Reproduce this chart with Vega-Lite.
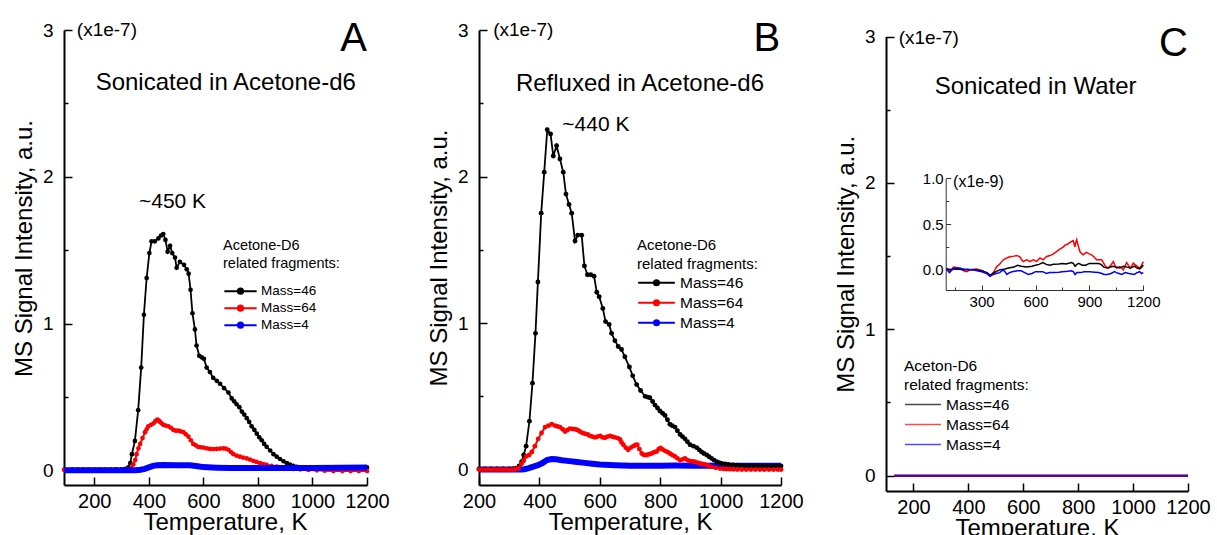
{
"$schema":"https://vega.github.io/schema/vega-lite/v6.json",
"padding":{"left":12,"top":19,"right":0,"bottom":0},
"config":{"view":{"stroke":null},"font":"Liberation Sans",
"text":{"font":"Liberation Sans","color":"#000","baseline":"alphabetic"},
"axis":{"domainColor":"#000","domainWidth":2,"tickColor":"#000","tickWidth":1.5,"labelColor":"#000","titleColor":"#000","labelFont":"Liberation Sans","titleFont":"Liberation Sans","labelFontSize":19,"titleFontSize":24,"titleFontWeight":"normal","grid":false,"labelOverlap":false},
"axisX":{"labelFontSize":20},
"legend":{"titleFontWeight":"normal","titleColor":"#000","labelColor":"#000","titleFont":"Liberation Sans","labelFont":"Liberation Sans","padding":0,"rowPadding":0}},
"datasets":{
"A":[
{"T":90,"v":0.005,"s":"46"},{"T":120,"v":0.005,"s":"46"},{"T":140,"v":0.005,"s":"46"},{"T":160,"v":0.005,"s":"46"},{"T":180,"v":0.005,"s":"46"},{"T":200,"v":0.005,"s":"46"},{"T":220,"v":0.005,"s":"46"},{"T":240,"v":0.005,"s":"46"},{"T":260,"v":0.005,"s":"46"},{"T":280,"v":0.006,"s":"46"},{"T":300,"v":0.007,"s":"46"},{"T":315,"v":0.01,"s":"46"},{"T":325,"v":0.02,"s":"46"},{"T":332,"v":0.05,"s":"46"},{"T":338,"v":0.11,"s":"46"},{"T":349,"v":0.2,"s":"46"},{"T":361,"v":0.41,"s":"46"},{"T":372,"v":0.7,"s":"46"},{"T":382,"v":1.06,"s":"46"},{"T":392,"v":1.31,"s":"46"},{"T":402,"v":1.48,"s":"46"},{"T":410,"v":1.56,"s":"46"},{"T":422,"v":1.56,"s":"46"},{"T":435,"v":1.58,"s":"46"},{"T":445,"v":1.6,"s":"46"},{"T":453,"v":1.61,"s":"46"},{"T":461,"v":1.57,"s":"46"},{"T":469,"v":1.49,"s":"46"},{"T":478,"v":1.53,"s":"46"},{"T":486,"v":1.48,"s":"46"},{"T":496,"v":1.45,"s":"46"},{"T":502,"v":1.38,"s":"46"},{"T":514,"v":1.42,"s":"46"},{"T":529,"v":1.4,"s":"46"},{"T":539,"v":1.37,"s":"46"},{"T":546,"v":1.34,"s":"46"},{"T":553,"v":1.23,"s":"46"},{"T":560,"v":1.07,"s":"46"},{"T":569,"v":0.96,"s":"46"},{"T":575,"v":0.85,"s":"46"},{"T":585,"v":0.78,"s":"46"},{"T":594,"v":0.77,"s":"46"},{"T":602,"v":0.76,"s":"46"},{"T":612,"v":0.7,"s":"46"},{"T":624,"v":0.67,"s":"46"},{"T":636,"v":0.63,"s":"46"},{"T":649,"v":0.61,"s":"46"},{"T":661,"v":0.59,"s":"46"},{"T":676,"v":0.56,"s":"46"},{"T":692,"v":0.53,"s":"46"},{"T":704,"v":0.49,"s":"46"},{"T":713,"v":0.47,"s":"46"},{"T":722,"v":0.45,"s":"46"},{"T":732,"v":0.43,"s":"46"},{"T":741,"v":0.4,"s":"46"},{"T":750,"v":0.38,"s":"46"},{"T":759,"v":0.355,"s":"46"},{"T":768,"v":0.33,"s":"46"},{"T":777,"v":0.3,"s":"46"},{"T":787,"v":0.275,"s":"46"},{"T":796,"v":0.25,"s":"46"},{"T":805,"v":0.225,"s":"46"},{"T":814,"v":0.205,"s":"46"},{"T":823,"v":0.18,"s":"46"},{"T":832,"v":0.16,"s":"46"},{"T":845,"v":0.135,"s":"46"},{"T":857,"v":0.11,"s":"46"},{"T":869,"v":0.093,"s":"46"},{"T":881,"v":0.077,"s":"46"},{"T":894,"v":0.062,"s":"46"},{"T":906,"v":0.049,"s":"46"},{"T":918,"v":0.039,"s":"46"},{"T":930,"v":0.03,"s":"46"},{"T":943,"v":0.024,"s":"46"},{"T":955,"v":0.019,"s":"46"},{"T":970,"v":0.015,"s":"46"},{"T":991,"v":0.012,"s":"46"},{"T":1010,"v":0.01,"s":"46"},{"T":1030,"v":0.01,"s":"46"},{"T":1050,"v":0.01,"s":"46"},{"T":1070,"v":0.012,"s":"46"},{"T":1090,"v":0.012,"s":"46"},{"T":1110,"v":0.013,"s":"46"},{"T":1130,"v":0.014,"s":"46"},{"T":1150,"v":0.015,"s":"46"},{"T":1170,"v":0.016,"s":"46"},{"T":1185,"v":0.018,"s":"46"},{"T":1200,"v":0.02,"s":"46"},
{"T":90,"v":0.003,"s":"64"},{"T":120,"v":0.003,"s":"64"},{"T":140,"v":0.003,"s":"64"},{"T":160,"v":0.003,"s":"64"},{"T":180,"v":0.003,"s":"64"},{"T":200,"v":0.003,"s":"64"},{"T":220,"v":0.003,"s":"64"},{"T":240,"v":0.003,"s":"64"},{"T":260,"v":0.003,"s":"64"},{"T":280,"v":0.003,"s":"64"},{"T":300,"v":0.003,"s":"64"},{"T":320,"v":0.005,"s":"64"},{"T":335,"v":0.015,"s":"64"},{"T":343,"v":0.04,"s":"64"},{"T":350,"v":0.07,"s":"64"},{"T":355,"v":0.11,"s":"64"},{"T":362,"v":0.15,"s":"64"},{"T":368,"v":0.18,"s":"64"},{"T":377,"v":0.22,"s":"64"},{"T":386,"v":0.26,"s":"64"},{"T":392,"v":0.28,"s":"64"},{"T":398,"v":0.3,"s":"64"},{"T":408,"v":0.31,"s":"64"},{"T":417,"v":0.32,"s":"64"},{"T":424,"v":0.335,"s":"64"},{"T":431,"v":0.345,"s":"64"},{"T":436,"v":0.34,"s":"64"},{"T":441,"v":0.33,"s":"64"},{"T":447,"v":0.32,"s":"64"},{"T":453,"v":0.31,"s":"64"},{"T":462,"v":0.305,"s":"64"},{"T":472,"v":0.3,"s":"64"},{"T":481,"v":0.29,"s":"64"},{"T":490,"v":0.275,"s":"64"},{"T":499,"v":0.27,"s":"64"},{"T":508,"v":0.27,"s":"64"},{"T":517,"v":0.265,"s":"64"},{"T":527,"v":0.26,"s":"64"},{"T":536,"v":0.245,"s":"64"},{"T":545,"v":0.23,"s":"64"},{"T":554,"v":0.205,"s":"64"},{"T":563,"v":0.18,"s":"64"},{"T":572,"v":0.17,"s":"64"},{"T":581,"v":0.16,"s":"64"},{"T":590,"v":0.157,"s":"64"},{"T":600,"v":0.155,"s":"64"},{"T":612,"v":0.15,"s":"64"},{"T":624,"v":0.146,"s":"64"},{"T":636,"v":0.145,"s":"64"},{"T":649,"v":0.146,"s":"64"},{"T":661,"v":0.148,"s":"64"},{"T":673,"v":0.15,"s":"64"},{"T":682,"v":0.148,"s":"64"},{"T":692,"v":0.14,"s":"64"},{"T":701,"v":0.125,"s":"64"},{"T":710,"v":0.11,"s":"64"},{"T":722,"v":0.1,"s":"64"},{"T":734,"v":0.093,"s":"64"},{"T":746,"v":0.087,"s":"64"},{"T":759,"v":0.081,"s":"64"},{"T":771,"v":0.073,"s":"64"},{"T":783,"v":0.065,"s":"64"},{"T":795,"v":0.057,"s":"64"},{"T":808,"v":0.049,"s":"64"},{"T":820,"v":0.043,"s":"64"},{"T":832,"v":0.037,"s":"64"},{"T":850,"v":0.031,"s":"64"},{"T":869,"v":0.026,"s":"64"},{"T":887,"v":0.02,"s":"64"},{"T":906,"v":0.014,"s":"64"},{"T":930,"v":0.01,"s":"64"},{"T":955,"v":0.007,"s":"64"},{"T":985,"v":0.003,"s":"64"},{"T":1016,"v":0.0,"s":"64"},{"T":1045,"v":-0.003,"s":"64"},{"T":1077,"v":-0.005,"s":"64"},{"T":1110,"v":-0.005,"s":"64"},{"T":1140,"v":-0.005,"s":"64"},{"T":1170,"v":-0.005,"s":"64"},{"T":1200,"v":-0.004,"s":"64"},
{"T":90,"v":0.0,"s":"4"},{"T":150,"v":0.0,"s":"4"},{"T":200,"v":0.0,"s":"4"},{"T":250,"v":0.0,"s":"4"},{"T":300,"v":0.0,"s":"4"},{"T":350,"v":0.001,"s":"4"},{"T":370,"v":0.004,"s":"4"},{"T":385,"v":0.01,"s":"4"},{"T":400,"v":0.02,"s":"4"},{"T":415,"v":0.03,"s":"4"},{"T":430,"v":0.035,"s":"4"},{"T":450,"v":0.036,"s":"4"},{"T":500,"v":0.035,"s":"4"},{"T":550,"v":0.034,"s":"4"},{"T":580,"v":0.028,"s":"4"},{"T":600,"v":0.022,"s":"4"},{"T":650,"v":0.018,"s":"4"},{"T":700,"v":0.016,"s":"4"},{"T":800,"v":0.015,"s":"4"},{"T":900,"v":0.015,"s":"4"},{"T":1000,"v":0.016,"s":"4"},{"T":1100,"v":0.017,"s":"4"},{"T":1200,"v":0.02,"s":"4"}
],
"B":[
{"T":200,"v":0.005,"s":"46"},{"T":220,"v":0.005,"s":"46"},{"T":240,"v":0.005,"s":"46"},{"T":260,"v":0.005,"s":"46"},{"T":280,"v":0.005,"s":"46"},{"T":300,"v":0.005,"s":"46"},{"T":315,"v":0.006,"s":"46"},{"T":325,"v":0.01,"s":"46"},{"T":333,"v":0.025,"s":"46"},{"T":341,"v":0.054,"s":"46"},{"T":348,"v":0.1,"s":"46"},{"T":356,"v":0.16,"s":"46"},{"T":367,"v":0.33,"s":"46"},{"T":377,"v":0.59,"s":"46"},{"T":387,"v":0.93,"s":"46"},{"T":395,"v":1.28,"s":"46"},{"T":406,"v":1.75,"s":"46"},{"T":416,"v":2.03,"s":"46"},{"T":426,"v":2.32,"s":"46"},{"T":437,"v":2.29,"s":"46"},{"T":446,"v":2.14,"s":"46"},{"T":457,"v":2.21,"s":"46"},{"T":468,"v":2.12,"s":"46"},{"T":479,"v":2.03,"s":"46"},{"T":488,"v":1.88,"s":"46"},{"T":498,"v":1.81,"s":"46"},{"T":507,"v":1.75,"s":"46"},{"T":518,"v":1.56,"s":"46"},{"T":527,"v":1.6,"s":"46"},{"T":540,"v":1.6,"s":"46"},{"T":549,"v":1.39,"s":"46"},{"T":559,"v":1.33,"s":"46"},{"T":570,"v":1.33,"s":"46"},{"T":581,"v":1.32,"s":"46"},{"T":590,"v":1.21,"s":"46"},{"T":598,"v":1.18,"s":"46"},{"T":610,"v":1.1,"s":"46"},{"T":619,"v":1.01,"s":"46"},{"T":631,"v":0.99,"s":"46"},{"T":639,"v":0.93,"s":"46"},{"T":650,"v":0.88,"s":"46"},{"T":661,"v":0.84,"s":"46"},{"T":672,"v":0.82,"s":"46"},{"T":683,"v":0.77,"s":"46"},{"T":698,"v":0.7,"s":"46"},{"T":709,"v":0.64,"s":"46"},{"T":722,"v":0.58,"s":"46"},{"T":735,"v":0.54,"s":"46"},{"T":750,"v":0.5,"s":"46"},{"T":758,"v":0.495,"s":"46"},{"T":766,"v":0.49,"s":"46"},{"T":775,"v":0.465,"s":"46"},{"T":783,"v":0.44,"s":"46"},{"T":791,"v":0.42,"s":"46"},{"T":799,"v":0.4,"s":"46"},{"T":808,"v":0.385,"s":"46"},{"T":816,"v":0.37,"s":"46"},{"T":824,"v":0.34,"s":"46"},{"T":832,"v":0.31,"s":"46"},{"T":840,"v":0.3,"s":"46"},{"T":849,"v":0.29,"s":"46"},{"T":857,"v":0.265,"s":"46"},{"T":866,"v":0.24,"s":"46"},{"T":874,"v":0.225,"s":"46"},{"T":882,"v":0.21,"s":"46"},{"T":890,"v":0.19,"s":"46"},{"T":899,"v":0.17,"s":"46"},{"T":910,"v":0.16,"s":"46"},{"T":921,"v":0.15,"s":"46"},{"T":929,"v":0.135,"s":"46"},{"T":937,"v":0.12,"s":"46"},{"T":945,"v":0.11,"s":"46"},{"T":954,"v":0.1,"s":"46"},{"T":962,"v":0.088,"s":"46"},{"T":970,"v":0.077,"s":"46"},{"T":978,"v":0.065,"s":"46"},{"T":987,"v":0.054,"s":"46"},{"T":995,"v":0.048,"s":"46"},{"T":1004,"v":0.042,"s":"46"},{"T":1015,"v":0.038,"s":"46"},{"T":1026,"v":0.035,"s":"46"},{"T":1040,"v":0.032,"s":"46"},{"T":1053,"v":0.03,"s":"46"},{"T":1066,"v":0.029,"s":"46"},{"T":1080,"v":0.028,"s":"46"},{"T":1095,"v":0.027,"s":"46"},{"T":1110,"v":0.026,"s":"46"},{"T":1125,"v":0.026,"s":"46"},{"T":1140,"v":0.025,"s":"46"},{"T":1155,"v":0.025,"s":"46"},{"T":1170,"v":0.025,"s":"46"},{"T":1185,"v":0.025,"s":"46"},{"T":1200,"v":0.025,"s":"46"},
{"T":200,"v":0.0,"s":"64"},{"T":210,"v":0.0,"s":"64"},{"T":220,"v":0.0,"s":"64"},{"T":230,"v":0.0,"s":"64"},{"T":240,"v":0.0,"s":"64"},{"T":250,"v":0.0,"s":"64"},{"T":260,"v":0.0,"s":"64"},{"T":270,"v":0.0,"s":"64"},{"T":280,"v":0.0,"s":"64"},{"T":290,"v":0.0,"s":"64"},{"T":300,"v":0.0,"s":"64"},{"T":310,"v":0.0,"s":"64"},{"T":320,"v":0.002,"s":"64"},{"T":330,"v":0.008,"s":"64"},{"T":341,"v":0.04,"s":"64"},{"T":348,"v":0.06,"s":"64"},{"T":356,"v":0.09,"s":"64"},{"T":366,"v":0.1,"s":"64"},{"T":375,"v":0.12,"s":"64"},{"T":385,"v":0.16,"s":"64"},{"T":396,"v":0.21,"s":"64"},{"T":407,"v":0.25,"s":"64"},{"T":419,"v":0.29,"s":"64"},{"T":430,"v":0.3,"s":"64"},{"T":441,"v":0.31,"s":"64"},{"T":452,"v":0.3,"s":"64"},{"T":460,"v":0.295,"s":"64"},{"T":468,"v":0.29,"s":"64"},{"T":477,"v":0.275,"s":"64"},{"T":485,"v":0.26,"s":"64"},{"T":493,"v":0.27,"s":"64"},{"T":501,"v":0.28,"s":"64"},{"T":510,"v":0.278,"s":"64"},{"T":518,"v":0.275,"s":"64"},{"T":526,"v":0.27,"s":"64"},{"T":534,"v":0.26,"s":"64"},{"T":543,"v":0.25,"s":"64"},{"T":551,"v":0.245,"s":"64"},{"T":560,"v":0.24,"s":"64"},{"T":568,"v":0.23,"s":"64"},{"T":576,"v":0.225,"s":"64"},{"T":584,"v":0.22,"s":"64"},{"T":592,"v":0.225,"s":"64"},{"T":601,"v":0.23,"s":"64"},{"T":609,"v":0.22,"s":"64"},{"T":617,"v":0.217,"s":"64"},{"T":625,"v":0.225,"s":"64"},{"T":634,"v":0.23,"s":"64"},{"T":642,"v":0.225,"s":"64"},{"T":650,"v":0.22,"s":"64"},{"T":659,"v":0.215,"s":"64"},{"T":667,"v":0.205,"s":"64"},{"T":672,"v":0.185,"s":"64"},{"T":678,"v":0.17,"s":"64"},{"T":686,"v":0.15,"s":"64"},{"T":694,"v":0.135,"s":"64"},{"T":702,"v":0.15,"s":"64"},{"T":711,"v":0.16,"s":"64"},{"T":718,"v":0.168,"s":"64"},{"T":724,"v":0.17,"s":"64"},{"T":731,"v":0.14,"s":"64"},{"T":739,"v":0.11,"s":"64"},{"T":747,"v":0.1,"s":"64"},{"T":755,"v":0.1,"s":"64"},{"T":763,"v":0.105,"s":"64"},{"T":771,"v":0.11,"s":"64"},{"T":780,"v":0.118,"s":"64"},{"T":788,"v":0.124,"s":"64"},{"T":795,"v":0.14,"s":"64"},{"T":801,"v":0.147,"s":"64"},{"T":808,"v":0.138,"s":"64"},{"T":816,"v":0.128,"s":"64"},{"T":824,"v":0.12,"s":"64"},{"T":832,"v":0.11,"s":"64"},{"T":840,"v":0.1,"s":"64"},{"T":849,"v":0.09,"s":"64"},{"T":857,"v":0.077,"s":"64"},{"T":866,"v":0.065,"s":"64"},{"T":874,"v":0.07,"s":"64"},{"T":882,"v":0.077,"s":"64"},{"T":890,"v":0.065,"s":"64"},{"T":899,"v":0.058,"s":"64"},{"T":907,"v":0.056,"s":"64"},{"T":915,"v":0.054,"s":"64"},{"T":924,"v":0.048,"s":"64"},{"T":932,"v":0.042,"s":"64"},{"T":940,"v":0.038,"s":"64"},{"T":948,"v":0.035,"s":"64"},{"T":959,"v":0.027,"s":"64"},{"T":970,"v":0.019,"s":"64"},{"T":984,"v":0.012,"s":"64"},{"T":998,"v":0.007,"s":"64"},{"T":1010,"v":0.005,"s":"64"},{"T":1020,"v":0.004,"s":"64"},{"T":1030,"v":0.003,"s":"64"},{"T":1042,"v":0.002,"s":"64"},{"T":1055,"v":0.001,"s":"64"},{"T":1070,"v":0.001,"s":"64"},{"T":1085,"v":0.0,"s":"64"},{"T":1100,"v":0.0,"s":"64"},{"T":1115,"v":0.0,"s":"64"},{"T":1130,"v":0.0,"s":"64"},{"T":1145,"v":0.0,"s":"64"},{"T":1160,"v":0.0,"s":"64"},{"T":1175,"v":0.0,"s":"64"},{"T":1190,"v":0.0,"s":"64"},{"T":1200,"v":0.0,"s":"64"},
{"T":200,"v":0.0,"s":"4"},{"T":340,"v":0.0,"s":"4"},{"T":350,"v":0.003,"s":"4"},{"T":365,"v":0.01,"s":"4"},{"T":380,"v":0.02,"s":"4"},{"T":395,"v":0.03,"s":"4"},{"T":410,"v":0.045,"s":"4"},{"T":425,"v":0.065,"s":"4"},{"T":440,"v":0.072,"s":"4"},{"T":455,"v":0.07,"s":"4"},{"T":475,"v":0.064,"s":"4"},{"T":500,"v":0.058,"s":"4"},{"T":525,"v":0.052,"s":"4"},{"T":550,"v":0.046,"s":"4"},{"T":575,"v":0.04,"s":"4"},{"T":600,"v":0.035,"s":"4"},{"T":650,"v":0.03,"s":"4"},{"T":700,"v":0.027,"s":"4"},{"T":750,"v":0.026,"s":"4"},{"T":800,"v":0.027,"s":"4"},{"T":850,"v":0.028,"s":"4"},{"T":900,"v":0.027,"s":"4"},{"T":950,"v":0.026,"s":"4"},{"T":1000,"v":0.026,"s":"4"},{"T":1050,"v":0.026,"s":"4"},{"T":1100,"v":0.026,"s":"4"},{"T":1150,"v":0.026,"s":"4"},{"T":1200,"v":0.026,"s":"4"}
],
"C":[
{"T":130,"v":0,"s":"46"},{"T":1200,"v":0,"s":"46"},{"T":130,"v":0,"s":"64"},{"T":1200,"v":0,"s":"64"},{"T":130,"v":0,"s":"4"},{"T":1200,"v":0,"s":"4"}
],
"Cin":[
{"T":105,"v":0.02,"s":"64"},{"T":124,"v":-0.02,"s":"64"},{"T":143,"v":0.03,"s":"64"},{"T":160,"v":0.025,"s":"64"},{"T":180,"v":0.02,"s":"64"},{"T":200,"v":-0.01,"s":"64"},{"T":217,"v":-0.02,"s":"64"},{"T":235,"v":0.0,"s":"64"},{"T":254,"v":0.007,"s":"64"},{"T":272,"v":0.01,"s":"64"},{"T":291,"v":0.0,"s":"64"},{"T":305,"v":-0.01,"s":"64"},{"T":319,"v":-0.03,"s":"64"},{"T":333,"v":-0.05,"s":"64"},{"T":347,"v":-0.065,"s":"64"},{"T":356,"v":-0.05,"s":"64"},{"T":365,"v":-0.03,"s":"64"},{"T":374,"v":0.0,"s":"64"},{"T":384,"v":0.036,"s":"64"},{"T":393,"v":0.05,"s":"64"},{"T":402,"v":0.066,"s":"64"},{"T":412,"v":0.09,"s":"64"},{"T":421,"v":0.11,"s":"64"},{"T":430,"v":0.12,"s":"64"},{"T":440,"v":0.13,"s":"64"},{"T":453,"v":0.14,"s":"64"},{"T":467,"v":0.146,"s":"64"},{"T":481,"v":0.15,"s":"64"},{"T":495,"v":0.157,"s":"64"},{"T":505,"v":0.15,"s":"64"},{"T":514,"v":0.14,"s":"64"},{"T":523,"v":0.11,"s":"64"},{"T":532,"v":0.09,"s":"64"},{"T":541,"v":0.1,"s":"64"},{"T":551,"v":0.11,"s":"64"},{"T":560,"v":0.1,"s":"64"},{"T":569,"v":0.09,"s":"64"},{"T":578,"v":0.1,"s":"64"},{"T":588,"v":0.11,"s":"64"},{"T":597,"v":0.1,"s":"64"},{"T":606,"v":0.09,"s":"64"},{"T":615,"v":0.11,"s":"64"},{"T":625,"v":0.13,"s":"64"},{"T":634,"v":0.12,"s":"64"},{"T":643,"v":0.11,"s":"64"},{"T":652,"v":0.13,"s":"64"},{"T":662,"v":0.146,"s":"64"},{"T":676,"v":0.155,"s":"64"},{"T":690,"v":0.164,"s":"64"},{"T":703,"v":0.18,"s":"64"},{"T":717,"v":0.2,"s":"64"},{"T":731,"v":0.22,"s":"64"},{"T":745,"v":0.237,"s":"64"},{"T":755,"v":0.25,"s":"64"},{"T":764,"v":0.27,"s":"64"},{"T":778,"v":0.28,"s":"64"},{"T":792,"v":0.3,"s":"64"},{"T":801,"v":0.31,"s":"64"},{"T":810,"v":0.32,"s":"64"},{"T":815,"v":0.28,"s":"64"},{"T":819,"v":0.25,"s":"64"},{"T":824,"v":0.3,"s":"64"},{"T":829,"v":0.33,"s":"64"},{"T":838,"v":0.26,"s":"64"},{"T":847,"v":0.2,"s":"64"},{"T":856,"v":0.18,"s":"64"},{"T":866,"v":0.164,"s":"64"},{"T":875,"v":0.18,"s":"64"},{"T":884,"v":0.19,"s":"64"},{"T":898,"v":0.175,"s":"64"},{"T":912,"v":0.164,"s":"64"},{"T":926,"v":0.14,"s":"64"},{"T":940,"v":0.11,"s":"64"},{"T":954,"v":0.11,"s":"64"},{"T":968,"v":0.11,"s":"64"},{"T":978,"v":0.08,"s":"64"},{"T":987,"v":0.044,"s":"64"},{"T":996,"v":0.03,"s":"64"},{"T":1005,"v":0.018,"s":"64"},{"T":1019,"v":0.05,"s":"64"},{"T":1033,"v":0.09,"s":"64"},{"T":1042,"v":0.05,"s":"64"},{"T":1052,"v":0.018,"s":"64"},{"T":1061,"v":0.03,"s":"64"},{"T":1070,"v":0.036,"s":"64"},{"T":1080,"v":0.02,"s":"64"},{"T":1089,"v":0.0,"s":"64"},{"T":1098,"v":0.04,"s":"64"},{"T":1107,"v":0.08,"s":"64"},{"T":1117,"v":0.05,"s":"64"},{"T":1126,"v":0.018,"s":"64"},{"T":1135,"v":0.04,"s":"64"},{"T":1144,"v":0.073,"s":"64"},{"T":1153,"v":0.06,"s":"64"},{"T":1163,"v":0.044,"s":"64"},{"T":1172,"v":0.03,"s":"64"},{"T":1181,"v":0.018,"s":"64"},{"T":1190,"v":0.05,"s":"64"},{"T":1200,"v":0.09,"s":"64"},
{"T":105,"v":0.01,"s":"46"},{"T":130,"v":0.005,"s":"46"},{"T":160,"v":0.01,"s":"46"},{"T":200,"v":0.0,"s":"46"},{"T":250,"v":0.0,"s":"46"},{"T":300,"v":-0.01,"s":"46"},{"T":330,"v":-0.03,"s":"46"},{"T":347,"v":-0.06,"s":"46"},{"T":370,"v":-0.03,"s":"46"},{"T":400,"v":0.0,"s":"46"},{"T":430,"v":0.01,"s":"46"},{"T":450,"v":0.02,"s":"46"},{"T":480,"v":0.03,"s":"46"},{"T":500,"v":0.05,"s":"46"},{"T":520,"v":0.04,"s":"46"},{"T":550,"v":0.03,"s":"46"},{"T":580,"v":0.04,"s":"46"},{"T":600,"v":0.05,"s":"46"},{"T":620,"v":0.06,"s":"46"},{"T":640,"v":0.08,"s":"46"},{"T":660,"v":0.06,"s":"46"},{"T":680,"v":0.05,"s":"46"},{"T":700,"v":0.06,"s":"46"},{"T":730,"v":0.065,"s":"46"},{"T":750,"v":0.07,"s":"46"},{"T":770,"v":0.065,"s":"46"},{"T":800,"v":0.08,"s":"46"},{"T":810,"v":0.07,"s":"46"},{"T":820,"v":0.04,"s":"46"},{"T":830,"v":0.06,"s":"46"},{"T":840,"v":0.07,"s":"46"},{"T":860,"v":0.05,"s":"46"},{"T":880,"v":0.05,"s":"46"},{"T":900,"v":0.07,"s":"46"},{"T":930,"v":0.07,"s":"46"},{"T":950,"v":0.07,"s":"46"},{"T":965,"v":0.06,"s":"46"},{"T":980,"v":0.03,"s":"46"},{"T":1000,"v":0.02,"s":"46"},{"T":1030,"v":0.04,"s":"46"},{"T":1050,"v":0.03,"s":"46"},{"T":1070,"v":0.02,"s":"46"},{"T":1090,"v":0.04,"s":"46"},{"T":1110,"v":0.03,"s":"46"},{"T":1130,"v":0.02,"s":"46"},{"T":1150,"v":0.04,"s":"46"},{"T":1165,"v":0.02,"s":"46"},{"T":1180,"v":0.01,"s":"46"},{"T":1190,"v":0.03,"s":"46"},{"T":1200,"v":0.05,"s":"46"},
{"T":105,"v":0.01,"s":"4"},{"T":120,"v":-0.03,"s":"4"},{"T":135,"v":0.0,"s":"4"},{"T":150,"v":0.02,"s":"4"},{"T":180,"v":0.015,"s":"4"},{"T":200,"v":0.01,"s":"4"},{"T":250,"v":0.0,"s":"4"},{"T":300,"v":-0.02,"s":"4"},{"T":330,"v":-0.04,"s":"4"},{"T":347,"v":-0.07,"s":"4"},{"T":365,"v":-0.05,"s":"4"},{"T":380,"v":-0.04,"s":"4"},{"T":400,"v":-0.03,"s":"4"},{"T":420,"v":0.0,"s":"4"},{"T":430,"v":-0.02,"s":"4"},{"T":440,"v":-0.05,"s":"4"},{"T":455,"v":-0.03,"s":"4"},{"T":470,"v":-0.02,"s":"4"},{"T":500,"v":-0.01,"s":"4"},{"T":520,"v":-0.01,"s":"4"},{"T":540,"v":-0.03,"s":"4"},{"T":560,"v":-0.05,"s":"4"},{"T":580,"v":-0.04,"s":"4"},{"T":600,"v":-0.02,"s":"4"},{"T":620,"v":-0.02,"s":"4"},{"T":640,"v":-0.02,"s":"4"},{"T":660,"v":-0.04,"s":"4"},{"T":680,"v":-0.03,"s":"4"},{"T":700,"v":-0.03,"s":"4"},{"T":730,"v":-0.025,"s":"4"},{"T":750,"v":-0.02,"s":"4"},{"T":780,"v":-0.015,"s":"4"},{"T":800,"v":-0.01,"s":"4"},{"T":810,"v":-0.02,"s":"4"},{"T":820,"v":-0.05,"s":"4"},{"T":830,"v":-0.03,"s":"4"},{"T":850,"v":-0.03,"s":"4"},{"T":870,"v":-0.02,"s":"4"},{"T":900,"v":-0.02,"s":"4"},{"T":930,"v":-0.025,"s":"4"},{"T":950,"v":-0.03,"s":"4"},{"T":970,"v":-0.04,"s":"4"},{"T":980,"v":-0.05,"s":"4"},{"T":1000,"v":-0.05,"s":"4"},{"T":1020,"v":-0.04,"s":"4"},{"T":1040,"v":-0.02,"s":"4"},{"T":1050,"v":-0.03,"s":"4"},{"T":1065,"v":-0.04,"s":"4"},{"T":1080,"v":-0.05,"s":"4"},{"T":1100,"v":-0.03,"s":"4"},{"T":1120,"v":-0.04,"s":"4"},{"T":1150,"v":-0.05,"s":"4"},{"T":1165,"v":-0.03,"s":"4"},{"T":1180,"v":-0.02,"s":"4"},{"T":1190,"v":-0.04,"s":"4"},{"T":1200,"v":-0.03,"s":"4"}
]
},
"spacing":105,
"bounds":"flush",
"resolve":{"legend":{"color":"independent"}},
"hconcat":[
{
"width":310,"height":455,
"layer":[
{
"data":{"name":"A"},
"encoding":{
"x":{"field":"T","type":"quantitative","scale":{"domain":[89,1200],"range":[0,303],"nice":false,"zero":false},
"axis":{"values":[200,300,400,500,600,700,800,900,1000,1100,1200],"format":"d","labelExpr":"datum.value % 200 == 0 ? datum.label : ''","tickSize":{"condition":{"test":"datum.value % 200 == 0","value":-8},"value":-4},"labelPadding":14,"labelFlush":false,"labelOverlap":false,"title":"Temperature, K","titlePadding":-1,"titleX":161}},
"y":{"field":"v","type":"quantitative","scale":{"domain":[-0.1,3],"nice":false,"zero":false},
"axis":{"values":[0,0.5,1,1.5,2,2.5,3],"labelExpr":"datum.value % 1 == 0 ? format(datum.value, 'd') : ''","tickSize":{"condition":{"test":"datum.value % 1 == 0","value":-8},"value":-4},"labelPadding":19,"labelFlush":false,"labelOverlap":false,"title":"MS Signal Intensity, a.u.","titlePadding":6,"titleY":218}},
"color":{"field":"s","type":"nominal","scale":{"domain":["46","64","4"],"range":["#000000","#ff0000","#0000ff"]},
"legend":{"title":["Acetone-D6","related fragments:"],"orient":"none","legendX":159,"legendY":209,"titleFontSize":14.5,"titleLineHeight":18.3,"titlePadding":11,"labelFontSize":13.5,"labelOffset":3,"labelExpr":"'Mass=' + datum.label","symbolType":"M-1,0L1,0M-0.16,0A0.16,0.16,0,1,0,0.16,0A0.16,0.16,0,1,0,-0.16,0Z","symbolSize":1043,"symbolStrokeWidth":2,"clipHeight":16.7,
"encode":{"symbols":{"update":{"fill":{"scale":"color","field":"value"},"stroke":{"scale":"color","field":"value"},"opacity":{"value":1}}}}}}
},
"layer":[
{"transform":[{"filter":"datum.s == '46'"}],"mark":{"type":"line","strokeWidth":1.8,"point":{"filled":true,"size":22}}},
{"transform":[{"filter":"datum.s == '64'"}],"mark":{"type":"line","strokeWidth":2,"point":{"filled":true,"size":22}}},
{"transform":[{"filter":"datum.s == '4'"}],"mark":{"type":"line","strokeWidth":6}}
]
},
{"data":{"values":[{}]},"mark":{"type":"text","text":"Sonicated in Acetone-d6","fontSize":24,"align":"center"},"encoding":{"x":{"datum":682,"type":"quantitative"},"y":{"datum":2.59,"type":"quantitative"}}},
{"data":{"values":[{}]},"mark":{"type":"text","text":"A","fontSize":40,"align":"right"},"encoding":{"x":{"datum":1200,"type":"quantitative"},"y":{"datum":2.856,"type":"quantitative"}}},
{"data":{"values":[{}]},"mark":{"type":"text","text":"(x1e-7)","fontSize":19,"align":"left"},"encoding":{"x":{"datum":136,"type":"quantitative"},"y":{"datum":2.958,"type":"quantitative"}}},
{"data":{"values":[{}]},"mark":{"type":"text","text":"~450 K","fontSize":21,"align":"center"},"encoding":{"x":{"datum":487,"type":"quantitative"},"y":{"datum":1.786,"type":"quantitative"}}}
]
},
{
"width":302,"height":455,
"layer":[
{
"data":{"name":"B"},
"encoding":{
"x":{"field":"T","type":"quantitative","scale":{"domain":[200,1200],"nice":false,"zero":false},
"axis":{"values":[200,300,400,500,600,700,800,900,1000,1100,1200],"format":"d","labelExpr":"datum.value % 200 == 0 ? datum.label : ''","tickSize":{"condition":{"test":"datum.value % 200 == 0","value":-8},"value":-4},"labelPadding":14,"labelFlush":false,"labelOverlap":false,"title":"Temperature, K","titlePadding":-1}},
"y":{"field":"v","type":"quantitative","scale":{"domain":[-0.105,3],"nice":false,"zero":false},
"axis":{"values":[0,0.5,1,1.5,2,2.5,3],"labelExpr":"datum.value % 1 == 0 ? format(datum.value, 'd') : ''","tickSize":{"condition":{"test":"datum.value % 1 == 0","value":-8},"value":-4},"labelPadding":19,"labelFlush":false,"labelOverlap":false,"title":"MS Signal Intensity, a.u.","titlePadding":6}},
"color":{"field":"s","type":"nominal","scale":{"domain":["46","64","4"],"range":["#000000","#ff0000","#0000ff"]},
"legend":{"title":["Acetone-D6","related fragments:"],"orient":"none","legendX":158,"legendY":208,"titleFontSize":15,"titleLineHeight":19,"titlePadding":1,"labelFontSize":15.5,"labelOffset":4,"labelExpr":"'Mass=' + datum.label","symbolType":"M-1,0L1,0M-0.14,0A0.14,0.14,0,1,0,0.14,0A0.14,0.14,0,1,0,-0.14,0Z","symbolSize":1347,"symbolStrokeWidth":2,"clipHeight":19.5,
"encode":{"symbols":{"update":{"fill":{"scale":"color","field":"value"},"stroke":{"scale":"color","field":"value"},"opacity":{"value":1}}}}}}
},
"layer":[
{"transform":[{"filter":"datum.s == '4'"}],"mark":{"type":"line","strokeWidth":6}},
{"transform":[{"filter":"datum.s == '46'"}],"mark":{"type":"line","strokeWidth":1.8,"point":{"filled":true,"size":24}}},
{"transform":[{"filter":"datum.s == '64'"}],"mark":{"type":"line","strokeWidth":2,"point":{"filled":true,"size":24}}}
]
},
{"data":{"values":[{}]},"mark":{"type":"text","text":"Refluxed in Acetone-d6","fontSize":24,"align":"center"},"encoding":{"x":{"datum":733,"type":"quantitative"},"y":{"datum":2.587,"type":"quantitative"}}},
{"data":{"values":[{}]},"mark":{"type":"text","text":"B","fontSize":40,"align":"right"},"encoding":{"x":{"datum":1197,"type":"quantitative"},"y":{"datum":2.856,"type":"quantitative"}}},
{"data":{"values":[{}]},"mark":{"type":"text","text":"(x1e-7)","fontSize":19,"align":"left"},"encoding":{"x":{"datum":247,"type":"quantitative"},"y":{"datum":2.958,"type":"quantitative"}}},
{"data":{"values":[{}]},"mark":{"type":"text","text":"~440 K","fontSize":21,"align":"center"},"encoding":{"x":{"datum":587,"type":"quantitative"},"y":{"datum":2.31,"type":"quantitative"}}}
]
},
{
"width":302,"height":461,
"layer":[
{
"layer":[
{
"data":{"name":"C"},
"encoding":{
"x":{"field":"T","type":"quantitative","scale":{"domain":[100,1200],"nice":false,"zero":false},
"axis":{"values":[200,300,400,500,600,700,800,900,1000,1100,1200],"format":"d","labelExpr":"datum.value % 200 == 0 ? datum.label : ''","tickSize":{"condition":{"test":"datum.value % 200 == 0","value":-8},"value":-4},"labelPadding":14,"labelFlush":false,"labelOverlap":false,"title":"Temperature, K","titlePadding":-1}},
"y":{"field":"v","type":"quantitative","scale":{"domain":[-0.105,3],"range":[461,6.5],"nice":false,"zero":false},
"axis":{"values":[0,0.5,1,1.5,2,2.5,3],"labelExpr":"datum.value % 1 == 0 ? format(datum.value, 'd') : ''","tickSize":{"condition":{"test":"datum.value % 1 == 0","value":-8},"value":-4},"labelPadding":19,"labelFlush":false,"labelOverlap":false,"title":"MS Signal Intensity, a.u.","titlePadding":6}},
"color":{"field":"s","type":"nominal","scale":{"domain":["46","64","4"],"range":["#000000","#ff0000","#0000ff"]},
"legend":{"title":["Aceton-D6","related fragments:"],"orient":"none","legendX":18,"legendY":329,"titleFontSize":15.5,"titleLineHeight":18.7,"titlePadding":1.5,"labelFontSize":15.5,"labelOffset":4,"labelExpr":"'Mass=' + datum.label","symbolType":"stroke","symbolSize":1296,"symbolStrokeWidth":1.5,"clipHeight":19.6}}
},
"layer":[
{"transform":[{"filter":"datum.s == '46'"}],"mark":{"type":"line","strokeWidth":2}},
{"transform":[{"filter":"datum.s == '64'"}],"mark":{"type":"line","strokeWidth":2}},
{"transform":[{"filter":"datum.s == '4'"}],"mark":{"type":"line","strokeWidth":2,"opacity":0.7}}
]
},
{"data":{"values":[{}]},"mark":{"type":"text","text":"Sonicated in Water","fontSize":24,"align":"center"},"encoding":{"x":{"datum":645,"type":"quantitative"},"y":{"datum":2.607,"type":"quantitative"}}},
{"data":{"values":[{}]},"mark":{"type":"text","text":"C","fontSize":40,"align":"right"},"encoding":{"x":{"datum":1200,"type":"quantitative"},"y":{"datum":2.864,"type":"quantitative"}}},
{"data":{"values":[{}]},"mark":{"type":"text","text":"(x1e-7)","fontSize":19,"align":"left"},"encoding":{"x":{"datum":146,"type":"quantitative"},"y":{"datum":2.95,"type":"quantitative"}}}
]
},
{
"layer":[
{
"data":{"name":"Cin"},
"encoding":{
"x":{"field":"T","type":"quantitative","scale":{"domain":[100,1200],"range":[59.7,257.3],"nice":false,"zero":false},
"axis":{"orient":"bottom","offset":-201,"values":[150,300,450,600,750,900,1050,1200],"format":"d","labelExpr":"datum.value % 300 == 0 ? datum.label : ''","tickSize":{"condition":{"test":"datum.value % 300 == 0","value":-5},"value":-3},"labelPadding":9,"labelFontSize":15,"domainWidth":1,"domainColor":"#333","tickWidth":1,"tickColor":"#333","title":null,"labelFlush":false,"labelOverlap":false}},
"y":{"field":"v","type":"quantitative","scale":{"domain":[-0.22,1],"range":[260,148.3],"nice":false,"zero":false},
"axis":{"orient":"left","offset":-59.7,"values":[0,0.25,0.5,0.75,1],"labelExpr":"datum.value % 0.5 == 0 ? format(datum.value, '.1f') : ''","tickSize":{"condition":{"test":"datum.value % 0.5 == 0","value":-5},"value":-3},"labelPadding":7.5,"labelFontSize":15,"domainWidth":1,"domainColor":"#333","tickWidth":1,"tickColor":"#333","title":null,"labelFlush":false,"labelOverlap":false}},
"color":{"field":"s","type":"nominal","legend":null}
},
"layer":[
{"transform":[{"filter":"datum.s == '64'"}],"mark":{"type":"line","strokeWidth":1.5}},
{"transform":[{"filter":"datum.s == '46'"}],"mark":{"type":"line","strokeWidth":1.5}},
{"transform":[{"filter":"datum.s == '4'"}],"mark":{"type":"line","strokeWidth":1.5}}
]
},
{"data":{"values":[{}]},"mark":{"type":"text","text":"(x1e-9)","fontSize":16,"align":"left"},"encoding":{"x":{"datum":141,"type":"quantitative"},"y":{"datum":0.908,"type":"quantitative"}}}
]
}
],
"resolve":{"scale":{"x":"independent","y":"independent"}}
}
]
}
